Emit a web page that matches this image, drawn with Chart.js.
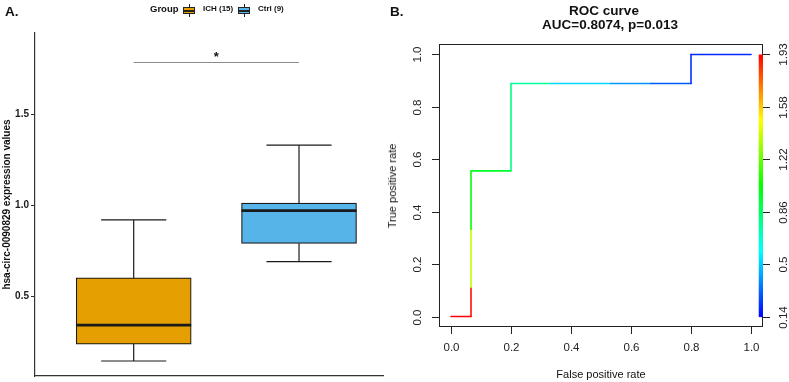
<!DOCTYPE html>
<html><head><meta charset="utf-8">
<script src="https://cdn.jsdelivr.net/npm/chart.js@4.4.0/dist/chart.umd.min.js"></script>
<style>
html,body{margin:0;padding:0;background:#fff;}
body{width:789px;height:382px;position:relative;overflow:hidden;font-family:"Liberation Sans",Arial,sans-serif;}
canvas{position:absolute;top:0;}
#cA{left:0;}
#cB{left:375px;}
.t{position:absolute;white-space:nowrap;color:#111;}
.g{position:absolute;width:12px;height:13px;}
.g .w{position:absolute;left:5.5px;top:0;width:1px;height:13px;background:#222;}
.g .b{position:absolute;left:0;top:3px;width:10px;height:5px;border:1px solid #222;}
.g .m{position:absolute;left:0;top:6px;width:12px;height:1.5px;background:#222;}
</style></head><body>
<canvas id="cA" width="390" height="382"></canvas>
<canvas id="cB" width="414" height="382"></canvas>
<div id="overlay"></div>
<script>
// ---------- Panel A data (box plot) ----------
const GROUPS = ['ICH (15)', 'Ctrl (9)'];
const GROUP_POS = [1, 2];
const GROUP_COLORS = ['#E69F00', '#56B4E9'];
const WHISKER_LOW = [0.143, 0.69];
const Q1 = [0.236, 0.79];
const MEDIAN = [0.34, 0.97];
const Q3 = [0.60, 1.011];
const WHISKER_HIGH = [0.919, 1.33];
const Y_TICKS_A = [0.5, 1.0, 1.5];
const SIG_Y = 1.787;
const SIG_LABEL = '*';
const Y_TITLE_A = 'hsa-circ-0090829 expression values';

// ---------- Panel B data (ROC) ----------
const ROC_FPR = [0, 0.0667, 0.0667, 0.0667, 0.0667, 0.2, 0.2, 0.333, 0.533, 0.667, 0.8, 0.8, 1.0];
const ROC_TPR = [0, 0, 0.111, 0.333, 0.556, 0.556, 0.889, 0.889, 0.889, 0.889, 0.889, 1.0, 1.0];
const ROC_CUTOFF = [1.93, 1.90, 1.37, 1.035, 0.97, 0.80, 0.77, 0.52, 0.40, 0.30, 0.23, 0.21, 0.14];
const X_TICKS_B = [0, 0.2, 0.4, 0.6, 0.8, 1.0];
const Y_TICKS_B = [0, 0.2, 0.4, 0.6, 0.8, 1.0];
const CB_TICK_POS = [0, 0.2, 0.4, 0.6, 0.8, 1.0];
const CB_LABELS = ['0.14', '0.5', '0.86', '1.22', '1.58', '1.93'];
const CB_MIN = 0.14, CB_MAX = 1.93;

const FONT = '"Liberation Sans", Arial, sans-serif';

function rainbow(c) {
  let f = (c - CB_MIN) / (CB_MAX - CB_MIN);
  f = Math.max(0, Math.min(1, f));
  return 'hsl(' + (240 * (1 - f)).toFixed(1) + ',100%,50%)';
}

// ---------- overlay text ----------
const ov = document.getElementById('overlay');
function txt(s, x, cy, size, bold, align, rot) {
  const d = document.createElement('div');
  d.className = 't';
  d.textContent = s;
  const L = Math.round(size * 1.3);
  d.style.font = (bold ? 'bold ' : '') + size + 'px ' + FONT;
  d.style.lineHeight = L + 'px';
  d.style.left = x + 'px';
  d.style.top = (cy - L / 2) + 'px';
  if (rot) {
    d.style.top = cy + 'px';
    d.style.transform = 'translate(-50%,-50%) rotate(-90deg)';
  } else if (align === 'center') {
    d.style.transform = 'translateX(-50%)';
  }
  ov.appendChild(d);
}
function glyph(x, color) {
  const g = document.createElement('div');
  g.className = 'g';
  g.style.left = x + 'px'; g.style.top = '4px';
  g.innerHTML = '<div class="w"></div><div class="b" style="background:' + color + '"></div><div class="m"></div>';
  ov.appendChild(g);
}
txt('A.', 5, 11.5, 13.5, true, 'left');
txt('B.', 390, 11.5, 13.5, true, 'left');
txt('Group', 150, 8.5, 9.5, true, 'left');
glyph(183, GROUP_COLORS[0]);
txt(GROUPS[0], 203, 8.8, 8, true, 'left');
glyph(238, GROUP_COLORS[1]);
txt(GROUPS[1], 258, 8.8, 8, true, 'left');
txt('ROC curve', 604, 11.3, 13.5, true, 'center');
txt('AUC=0.8074, p=0.013', 610, 25, 13.5, true, 'center');
txt('False positive rate', 601, 374, 11, false, 'center');
txt('True positive rate', 392, 185.5, 11, false, 'left', true);

// ---------- Panel A chart ----------
const boxExtras = {
  id: 'boxExtras',
  afterDatasetsDraw(chart) {
    const { ctx, scales: { x, y } } = chart;
    const meta = chart.getDatasetMeta(0);
    ctx.save();
    ctx.strokeStyle = '#1a1a1a';
    const line = (x1, y1, x2, y2) => { ctx.beginPath(); ctx.moveTo(x1, y1); ctx.lineTo(x2, y2); ctx.stroke(); };
    for (let i = 0; i < GROUP_POS.length; i++) {
      const cx = x.getPixelForValue(GROUP_POS[i]);
      const capL = x.getPixelForValue(GROUP_POS[i] - 0.197);
      const capR = x.getPixelForValue(GROUP_POS[i] + 0.197);
      ctx.lineWidth = 1.2;
      line(cx, y.getPixelForValue(Q3[i]), cx, y.getPixelForValue(WHISKER_HIGH[i]));
      line(capL, y.getPixelForValue(WHISKER_HIGH[i]), capR, y.getPixelForValue(WHISKER_HIGH[i]));
      line(cx, y.getPixelForValue(Q1[i]), cx, y.getPixelForValue(WHISKER_LOW[i]));
      line(capL, y.getPixelForValue(WHISKER_LOW[i]), capR, y.getPixelForValue(WHISKER_LOW[i]));
      const bar = meta.data[i];
      ctx.lineWidth = 2.6;
      line(bar.x - bar.width / 2, y.getPixelForValue(MEDIAN[i]), bar.x + bar.width / 2, y.getPixelForValue(MEDIAN[i]));
    }
    // significance bar
    ctx.strokeStyle = '#8c8c8c';
    ctx.lineWidth = 1;
    const sy = Math.round(y.getPixelForValue(SIG_Y)) + 0.5;
    line(x.getPixelForValue(GROUP_POS[0]), sy, x.getPixelForValue(GROUP_POS[1]), sy);
    ctx.fillStyle = '#111';
    ctx.font = 'bold 13px ' + FONT;
    ctx.textAlign = 'center';
    ctx.textBaseline = 'alphabetic';
    ctx.fillText(SIG_LABEL, x.getPixelForValue((GROUP_POS[0] + GROUP_POS[1]) / 2), sy - 2);
    ctx.restore();
  }
};

new Chart(document.getElementById('cA'), {
  type: 'bar',
  data: {
    datasets: [{
      data: GROUP_POS.map((p, i) => ({ x: p, y: [Q1[i], Q3[i]] })),
      backgroundColor: GROUP_COLORS,
      borderColor: '#1a1a1a',
      borderWidth: 1.2,
      borderSkipped: false,
      barThickness: 115
    }]
  },
  options: {
    responsive: false,
    animation: false,
    events: [],
    layout: { padding: { top: 33, right: 7, left: 0, bottom: 0 } },
    plugins: { legend: { display: false }, tooltip: { enabled: false } },
    scales: {
      x: {
        type: 'linear', min: 0.403, max: 2.508, offset: false,
        grid: { display: false, offset: false },
        ticks: { display: false },
        border: { display: true, color: '#333', width: 1.2 },
        afterFit: s => { s.height = 6; s.paddingLeft = 0; s.paddingRight = 0; }
      },
      y: {
        type: 'linear', min: 0.0604, max: 1.947,
        afterBuildTicks: s => { s.ticks = Y_TICKS_A.map(v => ({ value: v })); },
        grid: { drawOnChartArea: false, drawTicks: true, tickLength: 4, color: '#333', tickColor: '#333' },
        border: { display: true, color: '#333', width: 1.2 },
        ticks: { font: { family: FONT, size: 10, weight: 'bold' }, color: '#1a1a1a', padding: 2,
                 callback: v => Number(v).toFixed(1) },
        title: { display: true, text: Y_TITLE_A, font: { family: FONT, size: 10, weight: 'bold' }, color: '#111', padding: { top: 1, bottom: 0 } },
        afterFit: s => { s.width = 35; s.paddingTop = 0; s.paddingBottom = 0; }
      }
    }
  },
  plugins: [boxExtras]
});

// ---------- Panel B chart ----------
const rocFrame = {
  id: 'rocFrame',
  afterDraw(chart) {
    const { ctx, chartArea: a, scales: { x, y } } = chart;
    ctx.save();
    ctx.strokeStyle = '#222';
    ctx.lineWidth = 1;
    ctx.strokeRect(Math.round(a.left) + 0.5, Math.round(a.top) + 0.5, Math.round(a.right - a.left) - 1, Math.round(a.bottom - a.top) - 1);
    // colour bar mapped on the TPR scale
    const N = 200;
    const xl = x.getPixelForValue(1.026), xr = x.getPixelForValue(1.040);
    for (let k = 0; k < N; k++) {
      const v0 = k / N, v1 = (k + 1) / N;
      const p0 = y.getPixelForValue(v0), p1 = y.getPixelForValue(v1);
      ctx.fillStyle = rainbow(CB_MIN + (v0 + v1) / 2 * (CB_MAX - CB_MIN));
      ctx.fillRect(xl, p1, xr - xl, p0 - p1 + 0.6);
    }
    ctx.fillStyle = '#222';
    ctx.font = '11.5px ' + FONT;
    ctx.textAlign = 'center';
    ctx.textBaseline = 'middle';
    const line = (x1, y1, x2, y2) => { ctx.beginPath(); ctx.moveTo(x1, y1); ctx.lineTo(x2, y2); ctx.stroke(); };
    X_TICKS_B.forEach(v => {
      const px = Math.round(x.getPixelForValue(v)) + 0.5;
      line(px, a.bottom, px, a.bottom + 7);
      ctx.fillText(v.toFixed(1), px, a.bottom + 21);
    });
    Y_TICKS_B.forEach(v => {
      const py = Math.round(y.getPixelForValue(v)) + 0.5;
      line(a.left - 7, py, a.left, py);
      ctx.save(); ctx.translate(a.left - 21, py); ctx.rotate(-Math.PI / 2);
      ctx.fillText(v.toFixed(1), 0, 0); ctx.restore();
    });
    CB_TICK_POS.forEach((v, i) => {
      const py = Math.round(y.getPixelForValue(v)) + 0.5;
      line(a.right, py, a.right + 7, py);
      ctx.save(); ctx.translate(a.right + 21, py); ctx.rotate(-Math.PI / 2);
      ctx.fillText(CB_LABELS[i], 0, 0); ctx.restore();
    });
    ctx.restore();
  }
};

new Chart(document.getElementById('cB'), {
  type: 'line',
  data: {
    datasets: [{
      data: ROC_FPR.map((f, i) => ({ x: f, y: ROC_TPR[i] })),
      borderWidth: 1.6,
      borderCapStyle: 'round',
      pointRadius: 0,
      tension: 0,
      segment: { borderColor: c => rainbow(ROC_CUTOFF[c.p0DataIndex]) }
    }]
  },
  options: {
    responsive: false,
    animation: false,
    events: [],
    layout: { padding: { left: 64, top: 44, right: 26, bottom: 55 } },
    plugins: { legend: { display: false }, tooltip: { enabled: false } },
    scales: {
      x: { type: 'linear', min: -0.04, max: 1.04, display: false },
      y: { type: 'linear', min: -0.04, max: 1.04, display: false }
    }
  },
  plugins: [rocFrame]
});
</script>
</body></html>
